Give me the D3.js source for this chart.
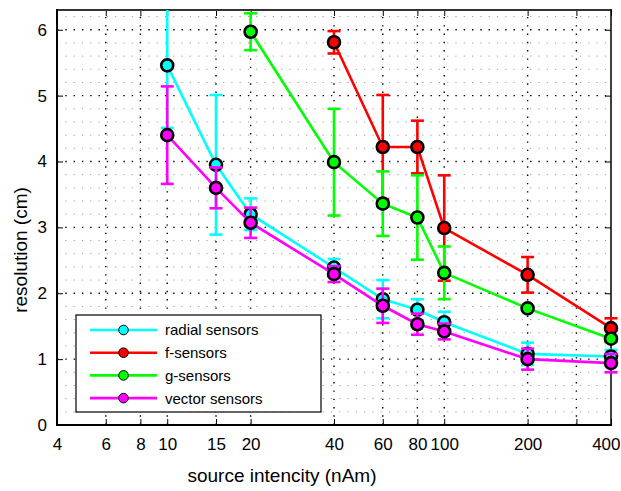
<!DOCTYPE html>
<html>
<head>
<meta charset="utf-8">
<script src="https://cdn.jsdelivr.net/npm/d3@7"></script>
<style>
  html, body { margin: 0; padding: 0; background: #fff; }
  svg { display: block; font-family: "Liberation Sans", Arial, Helvetica, sans-serif; }
</style>
</head>
<body>
<svg id="chart" width="621" height="491"></svg>
<script>
// Source intensities (nAm) at which each sensor type was evaluated
const radialX = [10, 15, 20, 40, 60, 80, 100, 200, 400];
const radialY = [5.46, 3.95, 3.20, 2.39, 1.91, 1.75, 1.56, 1.08, 1.04];
const radialErr = [0.95, 1.06, 0.24, 0.13, 0.29, 0.16, 0.16, 0.17, 0.10];

const fX = [40, 60, 80, 100, 200, 400];
const fY = [5.81, 4.22, 4.22, 2.99, 2.28, 1.47];
const fErr = [0.17, 0.79, 0.40, 0.80, 0.27, 0.15];

const gX = [20, 40, 60, 80, 100, 200, 400];
const gY = [5.97, 3.99, 3.36, 3.15, 2.31, 1.77, 1.31];
const gErr = [0.28, 0.81, 0.49, 0.64, 0.40, 0.04, 0.05];

const vectorX = [10, 15, 20, 40, 60, 80, 100, 200, 400];
const vectorY = [4.40, 3.60, 3.07, 2.29, 1.81, 1.53, 1.42, 1.00, 0.94];
const vectorErr = [0.74, 0.31, 0.23, 0.12, 0.26, 0.16, 0.12, 0.16, 0.14];

const seriesNames = ["radial sensors", "f-sensors", "g-sensors", "vector sensors"];
const seriesColors = ["#00ffff", "#ff0000", "#00ff00", "#ff00ff"];

const xTicks = [4, 6, 8, 10, 15, 20, 40, 60, 80, 100, 200, 300, 400];
const xTickLabels = ["4", "6", "8", "10", "15", "20", "40", "60", "80", "100", "200", "", "400"];
const yTicks = [0, 1, 2, 3, 4, 5, 6];

const series = [
  { name: seriesNames[0], color: seriesColors[0], x: radialX, y: radialY, e: radialErr },
  { name: seriesNames[1], color: seriesColors[1], x: fX, y: fY, e: fErr },
  { name: seriesNames[2], color: seriesColors[2], x: gX, y: gY, e: gErr },
  { name: seriesNames[3], color: seriesColors[3], x: vectorX, y: vectorY, e: vectorErr }
];

const svg = d3.select("#chart");
const L = 57, R = 611, T = 10, B = 425;

const x = d3.scaleLog().domain([4, 400]).range([L, R]);
const y = d3.scaleLinear().domain([0, 6.3]).range([B, T]);

// Minor horizontal grid every 0.2
const minorY = d3.range(0.2, 6.3, 0.2).filter(v => Math.abs(v - Math.round(v)) > 1e-6);
svg.append("g").selectAll("line").data(minorY).join("line")
  .attr("x1", L).attr("x2", R)
  .attr("y1", d => y(d)).attr("y2", d => y(d))
  .attr("stroke", "#9a9a9a").attr("stroke-width", 1)
  .attr("stroke-dasharray", "1.2 7.1");

// Major grid
svg.append("g").selectAll("line").data(yTicks.filter(v => v > 0)).join("line")
  .attr("x1", L).attr("x2", R)
  .attr("y1", d => y(d)).attr("y2", d => y(d))
  .attr("stroke", "#000").attr("stroke-width", 1.4)
  .attr("stroke-dasharray", "1.4 6.9");
svg.append("g").selectAll("line").data(xTicks.slice(1, -1)).join("line")
  .attr("x1", d => x(d)).attr("x2", d => x(d))
  .attr("y1", B).attr("y2", T)
  .attr("stroke", "#000").attr("stroke-width", 1.4)
  .attr("stroke-dasharray", "1.4 6.9");

// Axes via d3 axis generators (inward ticks, labels only on bottom/left)
const xAxis = d3.axisBottom(x).tickValues(xTicks).tickSizeInner(-6).tickSizeOuter(0)
  .tickFormat((d, i) => xTickLabels[i]).tickPadding(13);
const gx = svg.append("g").attr("transform", `translate(0,${B})`).call(xAxis);
gx.select(".domain").remove();
gx.selectAll("text").attr("font-size", 17).attr("fill", "#000")
  .attr("font-family", "Liberation Sans, Arial, sans-serif");
gx.selectAll("line").attr("stroke", "#000");
// keep the last label inside the page
gx.selectAll(".tick").filter(d => d === 400).select("text")
  .attr("text-anchor", "end").attr("x", 9);

const xAxisTop = d3.axisTop(x).tickValues(xTicks).tickSizeInner(-6).tickSizeOuter(0).tickFormat("");
const gxt = svg.append("g").attr("transform", `translate(0,${T})`).call(xAxisTop);
gxt.select(".domain").remove();

const yAxis = d3.axisLeft(y).tickValues(yTicks).tickSizeInner(-6).tickSizeOuter(0)
  .tickFormat(d3.format("d")).tickPadding(10);
const gy = svg.append("g").attr("transform", `translate(${L},0)`).call(yAxis);
gy.select(".domain").remove();
gy.selectAll("text").attr("font-size", 17).attr("fill", "#000")
  .attr("font-family", "Liberation Sans, Arial, sans-serif");

const yAxisRight = d3.axisRight(y).tickValues(yTicks).tickSizeInner(-6).tickSizeOuter(0).tickFormat("");
const gyr = svg.append("g").attr("transform", `translate(${R},0)`).call(yAxisRight);
gyr.select(".domain").remove();

// Frame
svg.append("line").attr("x1", L).attr("x2", R + 1).attr("y1", T).attr("y2", T)
  .attr("stroke", "#333").attr("stroke-width", 2);
svg.append("line").attr("x1", R).attr("x2", R).attr("y1", T).attr("y2", B)
  .attr("stroke", "#000").attr("stroke-width", 1.5);
svg.append("line").attr("x1", L).attr("x2", L).attr("y1", T - 1).attr("y2", B + 1)
  .attr("stroke", "#000").attr("stroke-width", 2);
svg.append("line").attr("x1", L - 1).attr("x2", R + 1).attr("y1", B).attr("y2", B)
  .attr("stroke", "#000").attr("stroke-width", 2);

// Data layer, clipped at the top of the plot
svg.append("defs").append("clipPath").attr("id", "plotClip")
  .append("rect").attr("x", 0).attr("y", T).attr("width", 621).attr("height", 491 - T);
const plot = svg.append("g").attr("clip-path", "url(#plotClip)");

const line = d3.line().x(d => x(d.x)).y(d => y(d.y));
const capW = 6.5;

series.forEach(s => {
  const pts = s.x.map((xv, i) => ({ x: xv, y: s.y[i], e: s.e[i] }));
  const g = plot.append("g");
  const eb = g.append("g").attr("stroke", s.color).attr("stroke-width", 2.6);
  eb.selectAll("line.v").data(pts).join("line").attr("class", "v")
    .attr("x1", d => x(d.x)).attr("x2", d => x(d.x))
    .attr("y1", d => y(d.y - d.e)).attr("y2", d => y(d.y + d.e));
  eb.selectAll("line.t").data(pts).join("line").attr("class", "t")
    .attr("x1", d => x(d.x) - capW).attr("x2", d => x(d.x) + capW)
    .attr("y1", d => y(d.y + d.e)).attr("y2", d => y(d.y + d.e));
  eb.selectAll("line.b").data(pts).join("line").attr("class", "b")
    .attr("x1", d => x(d.x) - capW).attr("x2", d => x(d.x) + capW)
    .attr("y1", d => y(d.y - d.e)).attr("y2", d => y(d.y - d.e));
  g.append("path").datum(pts).attr("d", line)
    .attr("fill", "none").attr("stroke", s.color).attr("stroke-width", 2.6);
  g.selectAll("circle").data(pts).join("circle")
    .attr("cx", d => x(d.x)).attr("cy", d => y(d.y)).attr("r", 6)
    .attr("fill", s.color).attr("stroke", "#000").attr("stroke-width", 2.6);
});

// Legend
const leg = svg.append("g");
leg.append("rect").attr("x", 76).attr("y", 315).attr("width", 245).attr("height", 97)
  .attr("fill", "#fff").attr("stroke", "#000").attr("stroke-width", 1.2);
const rows = leg.selectAll("g.row").data(series).join("g").attr("class", "row")
  .attr("transform", (d, i) => `translate(0,${330 + i * 22.7})`);
rows.append("line").attr("x1", 90).attr("x2", 157).attr("y1", 0).attr("y2", 0)
  .attr("stroke", d => d.color).attr("stroke-width", 2.6);
rows.append("circle").attr("cx", 123.5).attr("cy", 0).attr("r", 4.8)
  .attr("fill", d => d.color).attr("stroke", "#000").attr("stroke-width", 1);
rows.append("text").attr("x", 165).attr("y", 0).attr("dy", "0.36em")
  .attr("font-size", 15).text(d => d.name);

// Axis titles
svg.append("text").attr("x", 282).attr("y", 482).attr("text-anchor", "middle")
  .attr("font-size", 19).text("source intencity (nAm)");
svg.append("text").attr("transform", "translate(27,250) rotate(-90)")
  .attr("text-anchor", "middle").attr("font-size", 19).text("resolution (cm)");
</script>
</body>
</html>
